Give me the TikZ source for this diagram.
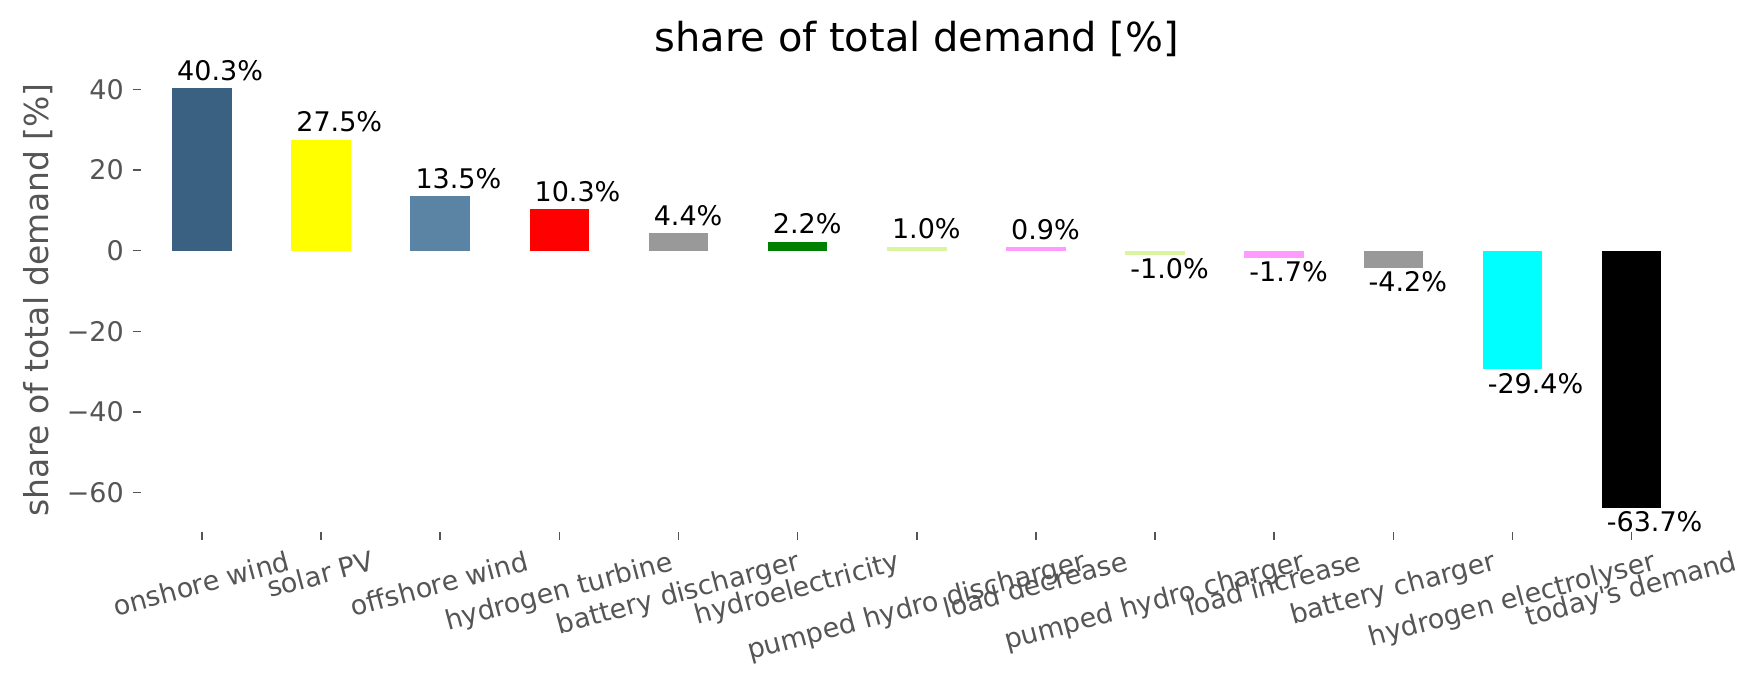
\documentclass[tikz,border=0pt]{standalone}
\usepackage{fontspec}
\newfontfamily\dv{DejaVu Sans}
\definecolor{onwind}{HTML}{3B6182}
\definecolor{solarc}{HTML}{FFFF00}
\definecolor{offwind}{HTML}{5B83A3}
\definecolor{h2turb}{HTML}{FF0000}
\definecolor{batt}{HTML}{999999}
\definecolor{hydroc}{HTML}{008000}
\definecolor{phs}{HTML}{D9F5A0}
\definecolor{loadc}{HTML}{FF9BFF}
\definecolor{h2elec}{HTML}{00FFFF}
\definecolor{demandc}{HTML}{000000}
\definecolor{tickgray}{HTML}{555555}
\newlength\labw
\newcommand\myTickFont{\dv\fontsize{7.68}{9}\selectfont}
\newcommand\measurelab[2]{\settowidth\labw{\myTickFont #2}\expandafter\xdef\csname mylabw#1\endcsname{\the\labw}}
\begin{document}
\measurelab{0}{onshore wind}%
\measurelab{1}{solar PV}%
\measurelab{2}{offshore wind}%
\measurelab{3}{hydrogen turbine}%
\measurelab{4}{battery discharger}%
\measurelab{5}{hydroelectricity}%
\measurelab{6}{pumped hydro discharger}%
\measurelab{7}{load decrease}%
\measurelab{8}{pumped hydro charger}%
\measurelab{9}{load increase}%
\measurelab{10}{battery charger}%
\measurelab{11}{hydrogen electrolyser}%
\measurelab{12}{today's demand}%
\begin{tikzpicture}[x=0.3201pt,y=0.3201pt,
  txt/.style={inner sep=0pt, outer sep=0pt},
  ticklab/.style={txt, font=\myTickFont, text=tickgray, rotate=15, anchor=center, text height=5.84pt, text depth=1.84pt},
  ynum/.style={txt, font=\myTickFont, text=tickgray, anchor=east, text height=5.6pt, text depth=0pt},
  vallab/.style={txt, font=\myTickFont, text=black, anchor=base west},
  axlab/.style={txt, font=\dv\fontsize{9.38}{11}\selectfont, text=tickgray, rotate=90, anchor=center, text height=7.13pt, text depth=2.25pt},
  ttl/.style={txt, font=\dv\fontsize{11.36}{13}\selectfont, text=black, anchor=base},
  tickmark/.style={draw=tickgray, line width=0.45pt}]
\fill[white] (0,0) rectangle (1568,612.44);
\useasboundingbox (0,0) rectangle (1568,612.44);
\node[ttl] (title) at (815,566.4) {share of total demand [\%]};
\node[axlab] (ylabel) at (35.5,345.9) {share of total demand [\%]};
\foreach \v/\t in {40/40,20/20,0/0,-20/−20,-40/−40,-60/−60}{
  \pgfmathsetmacro\yy{389.64+3.585*\v}
  \coordinate (ya\v) at (117.9,\yy);
  \coordinate (yb\v) at (125.4,\yy);
  \draw[tickmark] (ya\v) -- (yb\v);
  \node[ynum] (yt\v) at (110,\yy) {\t};
}
\foreach \i/\v/\c/\t in {0/40.3/onwind/{onshore wind},1/27.5/solarc/{solar PV},2/13.5/offwind/{offshore wind},3/10.3/h2turb/{hydrogen turbine},4/4.4/batt/{battery discharger},5/2.2/hydroc/{hydroelectricity},6/1.0/phs/{pumped hydro discharger},7/0.9/loadc/{load decrease},8/-1.0/phs/{pumped hydro charger},9/-1.7/loadc/{load increase},10/-4.2/batt/{battery charger},11/-29.4/h2elec/{hydrogen electrolyser},12/-63.7/demandc/{today's demand}}{
  \pgfmathsetmacro\xc{179.5+105.9*\i}
  \pgfmathsetmacro\yv{389.64+3.585*\v}
  \fill[\c] (\xc-26.45,389.64) rectangle (\xc+26.45,\yv);
  \ifdim \v pt>0pt
    \node[vallab] (v\i) at (\xc-21.95,\yv+7) {\v\%};
  \else
    \node[vallab] (v\i) at (\xc-21.95,\yv-21.5) {\v\%};
  \fi
  \coordinate (xa\i) at (\xc,139.8);
  \coordinate (xb\i) at (\xc,132.6);
  \draw[tickmark] (xa\i) -- (xb\i);
  \pgfmathsetmacro\labd{(\csname mylabw\i\endcsname/0.3201*sin(15) + 24*cos(15))/2}
  \node[ticklab] (x\i) at (\xc,123.6-\labd) {\t};
}
\end{tikzpicture}
\end{document}
